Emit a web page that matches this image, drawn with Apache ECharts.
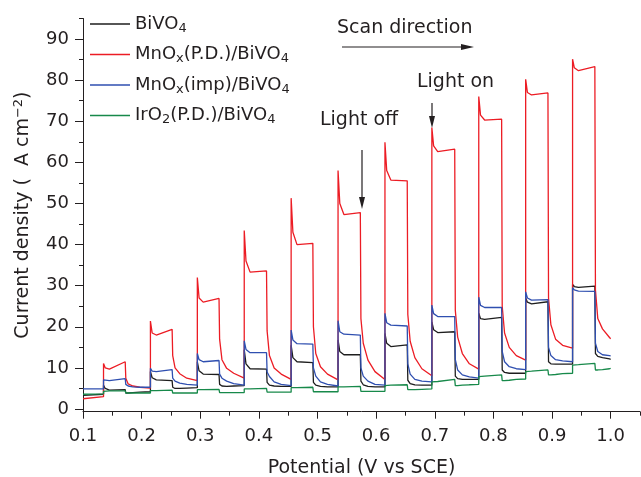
<!DOCTYPE html>
<html>
<head>
<meta charset="utf-8">
<script src="https://cdn.jsdelivr.net/npm/echarts@6/dist/echarts.min.js"></script>
<style>
  html, body { margin: 0; padding: 0; background: #fff; }
  #chart { width: 641px; height: 477px; }
</style>
</head>
<body>
<div id="chart"></div>
<script>
// potential samples (V vs SCE), shared by all four curves
const potential = [
  0.1,
  0.135, 0.135, 0.138, 0.145, 0.172, 0.173, 0.177, 0.185, 0.197,
  0.215, 0.215, 0.218, 0.225, 0.252, 0.253, 0.257, 0.265, 0.277,
  0.295, 0.295, 0.298, 0.305, 0.332, 0.333, 0.337, 0.345, 0.357,
  0.375, 0.375, 0.378, 0.385, 0.413, 0.414, 0.418, 0.426, 0.438,
  0.455, 0.455, 0.458, 0.465, 0.492, 0.493, 0.497, 0.505, 0.517,
  0.535, 0.535, 0.538, 0.545, 0.573, 0.574, 0.578, 0.586, 0.598,
  0.615, 0.615, 0.618, 0.625, 0.653, 0.654, 0.658, 0.666, 0.678,
  0.695, 0.695, 0.698, 0.705, 0.734, 0.735, 0.739, 0.747, 0.759,
  0.775, 0.775, 0.778, 0.785, 0.814, 0.815, 0.819, 0.827, 0.839,
  0.855, 0.855, 0.858, 0.865, 0.893, 0.894, 0.898, 0.906, 0.918,
  0.935, 0.935, 0.938, 0.945, 0.973, 0.974, 0.978, 0.986, 0.998,
  1.0
]

const bivo4 = [
  3.3,
  3.6, 5.8, 5.0, 4.6, 4.7, 3.9, 3.9, 4.0, 4.1,
  4.2, 9.1, 7.6, 7.1, 6.9, 5.3, 5.0, 5.0, 5.1,
  5.2, 11.5, 9.3, 8.5, 8.4, 6.0, 5.6, 5.5, 5.6,
  5.7, 14.4, 11.0, 9.8, 9.7, 6.5, 5.8, 5.6, 5.5,
  5.5, 15.5, 12.5, 11.5, 11.3, 6.5, 5.8, 5.5, 5.4,
  5.4, 16.8, 14.0, 13.2, 13.2, 6.8, 5.9, 5.5, 5.4,
  5.4, 18.4, 16.0, 15.2, 15.6, 7.0, 6.2, 5.9, 5.8,
  5.8, 21.2, 19.3, 18.6, 18.8, 8.0, 7.4, 7.2, 7.2,
  7.2, 23.3, 22.0, 21.8, 22.3, 9.5, 8.9, 8.7, 8.7,
  8.7, 27.0, 26.0, 25.6, 26.1, 11.5, 11.0, 10.9, 10.9,
  10.9, 30.3, 29.8, 29.6, 29.9, 13.5, 12.8, 12.5, 12.2,
  12.1
]

const mnoxPD = [
  2.5,
  3.0, 11.1, 10.0, 9.7, 11.5, 7.5, 6.1, 5.6, 5.3,
  5.1, 21.4, 18.5, 18.0, 19.4, 13.0, 10.0, 8.6, 7.5,
  6.9, 32.0, 27.0, 26.0, 26.9, 17.0, 12.0, 9.9, 8.7,
  7.5, 43.4, 36.0, 33.3, 33.6, 19.0, 13.0, 10.0, 8.5,
  7.2, 51.3, 43.0, 40.0, 40.3, 20.0, 13.5, 10.3, 8.5,
  7.1, 58.0, 50.0, 47.3, 47.8, 22.0, 16.0, 11.9, 9.1,
  7.2, 64.9, 58.0, 55.7, 55.5, 23.0, 16.5, 12.5, 9.8,
  8.1, 68.5, 64.0, 62.6, 63.2, 24.0, 17.5, 13.5, 11.0,
  9.7, 76.0, 71.5, 70.3, 70.5, 25.0, 18.5, 15.0, 13.0,
  11.9, 80.2, 77.0, 76.4, 76.9, 27.0, 20.5, 17.0, 15.5,
  14.8, 85.1, 83.0, 82.3, 83.3, 29.0, 22.0, 19.5, 17.4,
  17.1
]

const mnoxImp = [
  4.9,
  4.9, 7.1, 6.9, 6.9, 7.4, 6.0, 5.6, 5.4, 5.3,
  5.3, 9.9, 9.2, 9.1, 9.6, 7.5, 6.8, 6.3, 6.0,
  5.8, 13.5, 12.0, 11.5, 11.8, 8.5, 7.5, 6.8, 6.2,
  5.8, 16.6, 14.5, 13.7, 13.7, 9.0, 7.9, 6.6, 6.0,
  5.7, 19.2, 16.8, 15.9, 15.8, 10.0, 8.0, 6.6, 6.0,
  5.6, 21.5, 18.8, 18.2, 18.0, 10.0, 8.0, 6.8, 6.0,
  5.8, 23.3, 21.0, 20.4, 20.2, 11.0, 8.5, 7.2, 6.8,
  6.6, 25.3, 23.2, 22.5, 22.5, 12.0, 9.5, 8.3, 7.8,
  7.5, 27.2, 25.2, 24.7, 24.7, 14.0, 11.5, 10.3, 9.8,
  9.6, 28.5, 27.0, 26.5, 26.6, 15.0, 13.0, 12.0, 11.7,
  11.5, 29.5, 29.0, 28.7, 28.6, 16.0, 14.0, 13.2, 13.0,
  12.9
]

const iro2PD = [
  3.6,
  3.7, 4.3, 4.3, 4.4, 4.4, 3.9, 3.9, 3.9, 3.9,
  3.9, 4.5, 4.5, 4.5, 4.6, 3.9, 3.9, 3.9, 3.9,
  3.9, 4.7, 4.7, 4.7, 4.8, 4.0, 4.0, 4.0, 4.0,
  4.0, 4.9, 4.9, 4.9, 5.0, 4.1, 4.1, 4.1, 4.1,
  4.1, 5.2, 5.2, 5.2, 5.3, 4.2, 4.2, 4.2, 4.2,
  4.2, 5.4, 5.4, 5.4, 5.5, 4.3, 4.3, 4.3, 4.3,
  4.3, 5.7, 5.7, 5.8, 5.9, 4.7, 4.7, 4.7, 4.8,
  4.9, 6.6, 6.6, 6.7, 7.2, 5.7, 5.7, 5.8, 5.9,
  6.0, 7.9, 7.9, 8.0, 8.3, 6.9, 6.9, 7.0, 7.2,
  7.3, 9.1, 9.1, 9.2, 9.5, 8.3, 8.3, 8.4, 8.6,
  8.7, 10.7, 10.7, 10.8, 11.1, 9.5, 9.5, 9.6, 9.8,
  9.9
]

const xMajorTicks = [0.1, 0.2, 0.3, 0.4, 0.5, 0.6, 0.7, 0.8, 0.9, 1.0]
const xMinorTicks = [0.15, 0.25, 0.35, 0.45, 0.55, 0.65, 0.75, 0.85, 0.95, 1.05]
const yMajorTicks = [0, 10, 20, 30, 40, 50, 60, 70, 80, 90]
const yMinorTicks = [5, 15, 25, 35, 45, 55, 65, 75, 85, 95]

const seriesNames = ['BiVO4', 'MnOx(P.D.)/BiVO4', 'MnOx(imp)/BiVO4', 'IrO2(P.D.)/BiVO4']
const seriesValues = [bivo4, mnoxPD, mnoxImp, iro2PD]
const seriesColors = ['#1e1e1e', '#ec1c24', '#2f4fb0', '#17894a']
// rich text with subscripts for the legend
const legendRich = {
  'BiVO4': '{n|BiVO}{s|4}',
  'MnOx(P.D.)/BiVO4': '{n|MnO}{s|x}{n|(P.D.)/BiVO}{s|4}',
  'MnOx(imp)/BiVO4': '{n|MnO}{s|x}{n|(imp)/BiVO}{s|4}',
  'IrO2(P.D.)/BiVO4': '{n|IrO}{s|2}{n|(P.D.)/BiVO}{s|4}'
}

const FONT = '"DejaVu Sans", "Liberation Sans", sans-serif'
const INK = '#231f20'

const chart = echarts.init(document.getElementById('chart'))

const series = seriesNames.map((name, i) => {
  return {
    name,
    type: 'line',
    symbol: 'none',
    animation: false,
    color: seriesColors[i],
    lineStyle: { width: 1.3, color: seriesColors[i] },
    data: potential.map((p, k) => [p, seriesValues[i][k]])
  }
})

function arrowDown (x, y1, y2) {
  return [
    { type: 'line', shape: { x1: x, y1, x2: x, y2: y2 - 8 }, style: { stroke: INK, lineWidth: 1.2 } },
    { type: 'polygon', shape: { points: [[x, y2], [x - 3, y2 - 12], [x + 3, y2 - 12]] }, style: { fill: INK } }
  ]
}

chart.setOption({
  backgroundColor: '#fff',
  animation: false,
  textStyle: { fontFamily: FONT },
  grid: {
    left: 83,
    right: 1,
    top: 18.5,
    bottom: 65.3,
    containLabel: false,
    outerBoundsMode: 'none'
  },
  legend: {
    orient: 'vertical',
    left: 90,
    top: 15,
    padding: 0,
    itemGap: 10.5,
    itemWidth: 40,
    itemHeight: 1.6,
    icon: 'rect',
    data: seriesNames,
    formatter: (name) => legendRich[name],
    textStyle: {
      rich: {
        n: { fontSize: 18, fontFamily: FONT, color: INK, lineHeight: 22 },
        s: { fontSize: 13, fontFamily: FONT, color: INK, lineHeight: 13, verticalAlign: 'bottom' }
      }
    }
  },
  xAxis: [
    {
      type: 'value',
      min: 0.1,
      max: 1.05,
      name: 'Potential (V vs SCE)',
      nameLocation: 'middle',
      nameGap: 47,
      nameTextStyle: { fontSize: 19, color: INK, fontFamily: FONT },
      axisLine: { onZero: false, lineStyle: { color: INK, width: 1 } },
      axisTick: { customValues: xMajorTicks, length: 7, lineStyle: { color: INK } },
      axisLabel: {
        customValues: xMajorTicks,
        margin: 16,
        fontSize: 18,
        color: INK,
        fontFamily: FONT,
        formatter: (v) => v.toFixed(1)
      },
      splitLine: { show: false }
    },
    {
      type: 'value',
      min: 0.1,
      max: 1.05,
      position: 'bottom',
      axisLine: { show: false, onZero: false },
      axisTick: { customValues: xMinorTicks, length: 4, lineStyle: { color: INK } },
      axisLabel: { show: false },
      splitLine: { show: false }
    }
  ],
  yAxis: [
    {
      type: 'value',
      min: -0.65,
      max: 95,
      name: '{n|Current density (  A cm}{p|−2}{n|)}',
      nameLocation: 'middle',
      nameGap: 48,
      nameTextStyle: {
        rich: {
          n: { fontSize: 19, color: INK, fontFamily: FONT, lineHeight: 23 },
          p: { fontSize: 13, color: INK, fontFamily: FONT, lineHeight: 13, verticalAlign: 'top' }
        }
      },
      axisLine: { show: true, onZero: false, lineStyle: { color: INK, width: 1 } },
      axisTick: { show: true, customValues: yMajorTicks, length: 8, lineStyle: { color: INK } },
      axisLabel: { customValues: yMajorTicks, margin: 14, fontSize: 18, color: INK, fontFamily: FONT },
      splitLine: { show: false }
    },
    {
      type: 'value',
      min: -0.65,
      max: 95,
      position: 'left',
      axisLine: { show: false, onZero: false },
      axisTick: { show: true, customValues: yMinorTicks, length: 4, lineStyle: { color: INK } },
      axisLabel: { show: false },
      splitLine: { show: false }
    }
  ],
  graphic: [
    { type: 'text', x: 337, y: 28, style: { text: 'Scan direction', font: '19px ' + FONT, fill: INK, textVerticalAlign: 'middle', verticalAlign: 'middle' } },
    { type: 'line', shape: { x1: 342, y1: 47, x2: 464, y2: 47 }, style: { stroke: INK, lineWidth: 1.2 } },
    { type: 'polygon', shape: { points: [[474, 47], [461, 44], [461, 50]] }, style: { fill: INK } },
    { type: 'text', x: 417, y: 82, style: { text: 'Light on', font: '19px ' + FONT, fill: INK, textVerticalAlign: 'middle', verticalAlign: 'middle' } },
    ...arrowDown(432, 103, 128),
    { type: 'text', x: 320, y: 120, style: { text: 'Light off', font: '19px ' + FONT, fill: INK, textVerticalAlign: 'middle', verticalAlign: 'middle' } },
    ...arrowDown(362, 150, 209)
  ],
  series
})
</script>
</body>
</html>
